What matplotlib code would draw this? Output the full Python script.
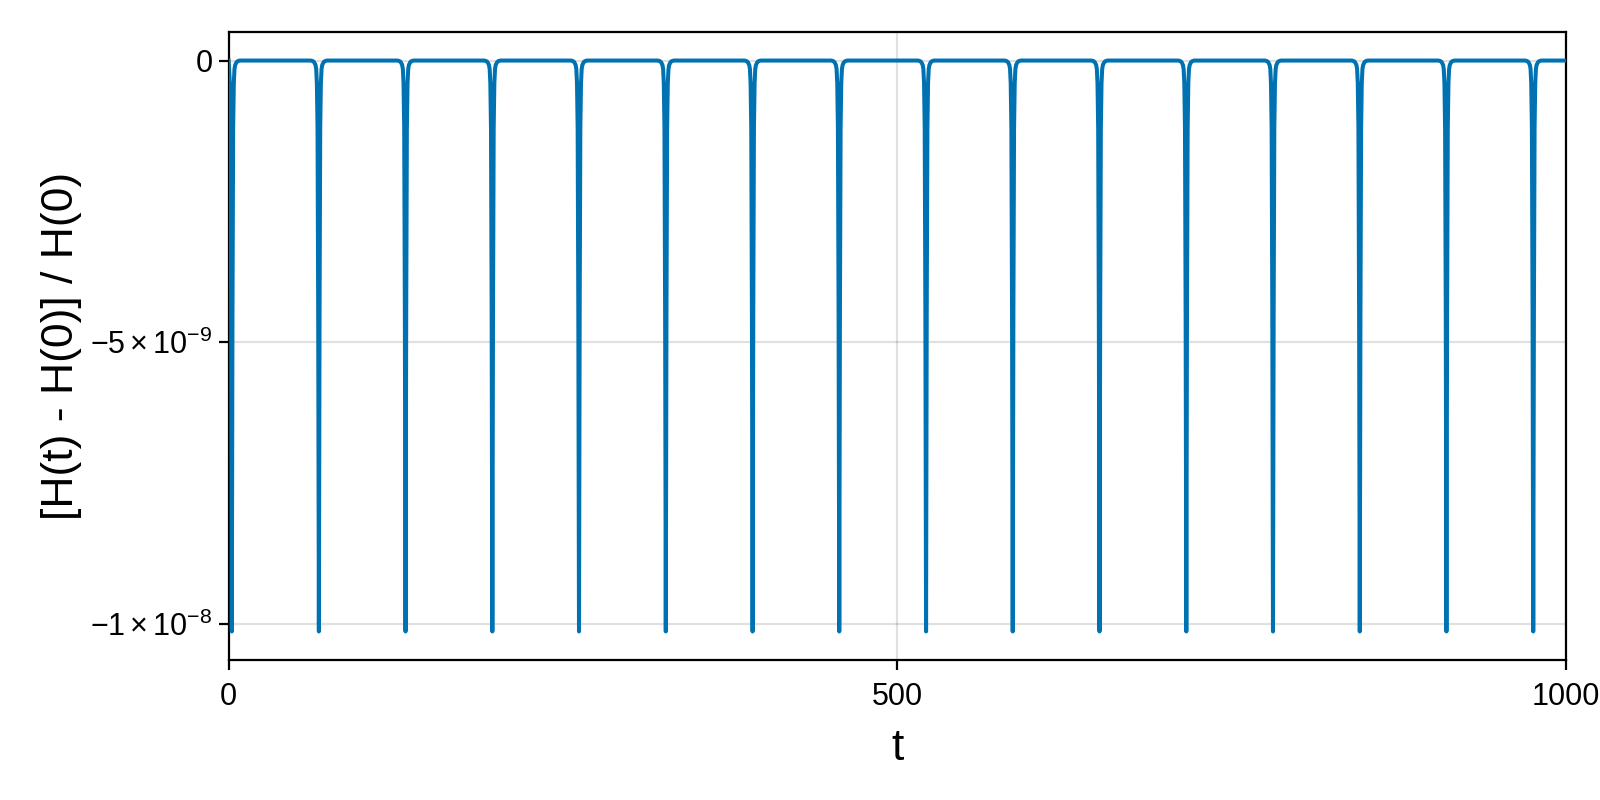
import matplotlib
matplotlib.use("Agg")
import matplotlib.pyplot as plt
from matplotlib.ticker import FixedLocator, FixedFormatter

# ---- data ----
spike_t = [2.4, 67.5, 132.3, 197.2, 262.0, 326.9, 391.8, 456.6, 521.5,
           586.3, 651.2, 716.1, 780.9, 845.8, 910.6, 975.5]
# shape of one dip: offsets in t and value (in units of 1e-9)
profile_dt = [-6, -4.5, -3.5, -2.5, -2, -1.5, -1, -0.5, 0,
              0.5, 1, 1.5, 2, 2.5, 3.5, 4.5, 6]
profile_dH = [0, -0.01, -0.03, -0.08, -0.15, -0.4, -1.2, -4.5, -10.13,
              -4.5, -1.2, -0.4, -0.15, -0.08, -0.03, -0.01, 0]
t_start, t_end = 0.0, 1000.0

xticks = [0, 500, 1000]
xticklabels = ["0", "500", "1000"]
yticks = [0, -5e-9, -1e-8]
yticklabels = ["0", r"$\mathregular{-5\times10^{-9}}$", r"$\mathregular{-1\times10^{-8}}$"]

# assemble the curve from the read points
t_vals = [t_start]
h_vals = [0.0]
for ts in spike_t:
    for dt, dh in zip(profile_dt, profile_dH):
        tt = ts + dt
        if t_start < tt < t_end and tt > t_vals[-1]:
            t_vals.append(tt)
            h_vals.append(dh * 1e-9)
t_vals.append(t_end)
h_vals.append(0.0)

# ---- style ----
plt.rcParams['font.family'] = ['Liberation Sans', 'DejaVu Sans']
plt.rcParams['mathtext.fontset'] = 'custom'
plt.rcParams['mathtext.rm'] = 'Liberation Sans'
plt.rcParams['mathtext.it'] = 'Liberation Sans:italic'
plt.rcParams['mathtext.bf'] = 'Liberation Sans:bold'

fig = plt.figure(figsize=(16, 8), dpi=100)
ax = fig.add_axes([228.6 / 1600, 1 - 660 / 800, (1566 - 228.6) / 1600, (660 - 32) / 800])

ax.plot(t_vals, h_vals, color="#0072B2", lw=2.9, solid_joinstyle='round', zorder=3)

ax.set_xlim(t_start, t_end)
ax.margins(y=0.05)

ax.xaxis.set_major_locator(FixedLocator(xticks))
ax.xaxis.set_major_formatter(FixedFormatter(xticklabels))
ax.yaxis.set_major_locator(FixedLocator(yticks))
ax.yaxis.set_major_formatter(FixedFormatter(yticklabels))

ax.grid(True, color='black', alpha=0.12, lw=1.6, zorder=0)
ax.set_axisbelow(True)

for s in ax.spines.values():
    s.set_linewidth(1.6)
    s.set_color("black")

ax.tick_params(axis='both', labelsize=22, length=7.5, width=1.6, color='black')
ax.tick_params(axis='x', pad=8)
ax.tick_params(axis='y', pad=4)

ax.set_xlabel("t", fontsize=32, labelpad=12)
ax.set_ylabel("[H(t) - H(0)] / H(0)", fontsize=32, labelpad=6)

fig.savefig("out.png", dpi=100)
